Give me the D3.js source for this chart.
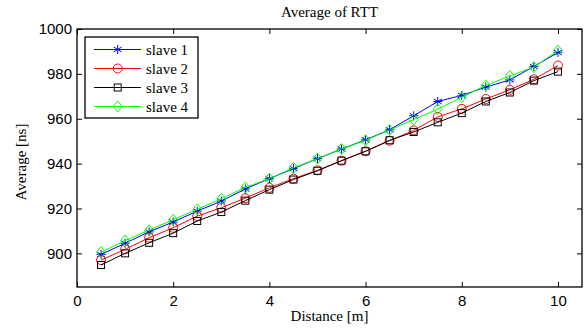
<!DOCTYPE html>
<html>
<head>
<meta charset="utf-8">
<script src="https://cdn.jsdelivr.net/npm/d3@7"></script>
<style>
  body { margin: 0; background: #fff; }
  svg { display: block; }
  .tick text { font-family: 'Liberation Sans', Arial, sans-serif; font-size: 15px; fill: #000; }
  .serif { font-family: 'Liberation Serif', 'Times New Roman', serif; font-size: 15px; fill: #000; }
</style>
</head>
<body>
<svg id="chart" width="588" height="334"></svg>
<script>
const distance = [0.5, 1, 1.5, 2, 2.5, 3, 3.5, 4, 4.5, 5, 5.5, 6, 6.5, 7, 7.5, 8, 8.5, 9, 9.5, 10]
const slave1 = [899.5, 904.5, 909.6, 914, 918.8, 923.3, 928.7, 933.3, 937.8, 942.2, 946.5, 950.6, 955.1, 961.3, 967.7, 970.4, 974.1, 977.3, 983.3, 989.5]
const slave2 = [897, 901.8, 907, 911.4, 916.6, 920.3, 924.6, 929.2, 933.3, 937, 941.3, 945.5, 950.2, 954.8, 960.8, 964.4, 968.8, 972.9, 977.6, 983.7]
const slave3 = [894.8, 900, 904.7, 909, 914.4, 918.4, 923.5, 928.4, 932.9, 936.8, 941.3, 945.5, 950.4, 954.1, 958.4, 962.5, 967.7, 971.7, 977, 981]
const slave4 = [900.5, 905.7, 910.3, 915, 919.6, 924.3, 929.4, 933.3, 938.1, 942.2, 946.5, 950.4, 955, 959.6, 964.3, 969.6, 974.8, 979.1, 983, 990.4]
const seriesNames = ['slave 1', 'slave 2', 'slave 3', 'slave 4']
const xTicks = [0, 2, 4, 6, 8, 10]
const yTicks = [900, 920, 940, 960, 980, 1000]

;(function (d3) {
  'use strict'
  const svg = d3.select('#chart')
  const margin = { top: 29, right: 6, bottom: 47, left: 77 }
  const width = +svg.attr('width')
  const height = +svg.attr('height')
  const innerWidth = width - margin.left - margin.right
  const innerHeight = height - margin.top - margin.bottom

  const xScale = d3.scaleLinear().domain([0, 10.5]).range([0, innerWidth])
  const yScale = d3.scaleLinear().domain([885, 1000]).range([innerHeight, 0])

  const series = [
    { name: seriesNames[0], values: slave1, color: '#0000ff', marker: 'star' },
    { name: seriesNames[1], values: slave2, color: '#ff0000', marker: 'circle' },
    { name: seriesNames[2], values: slave3, color: '#000000', marker: 'square' },
    { name: seriesNames[3], values: slave4, color: '#00ff00', marker: 'diamond' },
  ]

  const g = svg.append('g').attr('transform', `translate(${margin.left},${margin.top})`)

  // axes, MATLAB style: inward ticks on all four sides
  g.append('g').attr('transform', `translate(0,${innerHeight})`)
    .call(d3.axisBottom(xScale).tickValues(xTicks).tickSizeInner(-5).tickSizeOuter(0).tickPadding(8))
  g.append('g').call(d3.axisTop(xScale).tickValues(xTicks).tickSizeInner(-5).tickSizeOuter(0).tickFormat(''))
  g.append('g')
    .call(d3.axisLeft(yScale).tickValues(yTicks).tickFormat(d3.format('d'))
      .tickSizeInner(-5).tickSizeOuter(0).tickPadding(5))
  g.append('g').attr('transform', `translate(${innerWidth},0)`)
    .call(d3.axisRight(yScale).tickValues(yTicks).tickSizeInner(-5).tickSizeOuter(0).tickFormat(''))
  g.selectAll('.domain').remove()
  g.selectAll('.tick line').attr('stroke', '#000')

  g.append('rect')
    .attr('width', innerWidth).attr('height', innerHeight)
    .attr('fill', 'none').attr('stroke', '#000').attr('stroke-width', 1.3)

  const drawMarker = (sel, type, color) => {
    if (type === 'circle') {
      sel.append('circle').attr('r', 4.5).attr('fill', 'none').attr('stroke', color)
    } else if (type === 'square') {
      sel.append('rect').attr('x', -3.5).attr('y', -3.5).attr('width', 7).attr('height', 7)
        .attr('fill', 'none').attr('stroke', color)
    } else if (type === 'diamond') {
      sel.append('path').attr('d', 'M0,-5.5L4.5,0L0,5.5L-4.5,0Z').attr('fill', 'none').attr('stroke', color)
    } else {
      sel.append('path').attr('d', 'M0,-4.5V4.5M-4,-2.5L4,2.5M-4,2.5L4,-2.5M-4.5,0H4.5')
        .attr('fill', 'none').attr('stroke', color)
    }
  }

  const line = d3.line().x(d => xScale(d[0])).y(d => yScale(d[1]))

  series.forEach(s => {
    const pts = distance.map((x, i) => [x, s.values[i]])
    g.append('path').attr('d', line(pts)).attr('fill', 'none').attr('stroke', s.color).attr('stroke-width', 1)
    g.selectAll(null).data(pts).enter().append('g')
      .attr('transform', d => `translate(${xScale(d[0])},${yScale(d[1])})`)
      .each(function () { drawMarker(d3.select(this), s.marker, s.color) })
  })

  // legend
  const legend = svg.append('g').attr('transform', 'translate(85,37)')
  legend.append('rect').attr('width', 113).attr('height', 81)
    .attr('fill', '#fff').attr('stroke', '#000').attr('stroke-width', 1.3)
  series.forEach((s, i) => {
    const row = legend.append('g').attr('transform', `translate(0,${12.5 + i * 19})`)
    row.append('line').attr('x1', 9).attr('x2', 56).attr('stroke', s.color)
    drawMarker(row.append('g').attr('transform', 'translate(32.7,0)'), s.marker, s.color)
    row.append('text').attr('class', 'serif').attr('x', 61).attr('y', 5).text(s.name)
  })

  // titles
  svg.append('text').attr('class', 'serif').attr('x', margin.left + innerWidth / 2).attr('y', 17)
    .attr('text-anchor', 'middle').text('Average of RTT')
  svg.append('text').attr('class', 'serif').attr('x', margin.left + innerWidth / 2).attr('y', 321)
    .attr('text-anchor', 'middle').text('Distance [m]')
  svg.append('text').attr('class', 'serif')
    .attr('transform', `translate(26,${margin.top + innerHeight / 2 + 4}) rotate(-90)`)
    .attr('text-anchor', 'middle').text('Average [ns]')
}(d3))
</script>
</body>
</html>
